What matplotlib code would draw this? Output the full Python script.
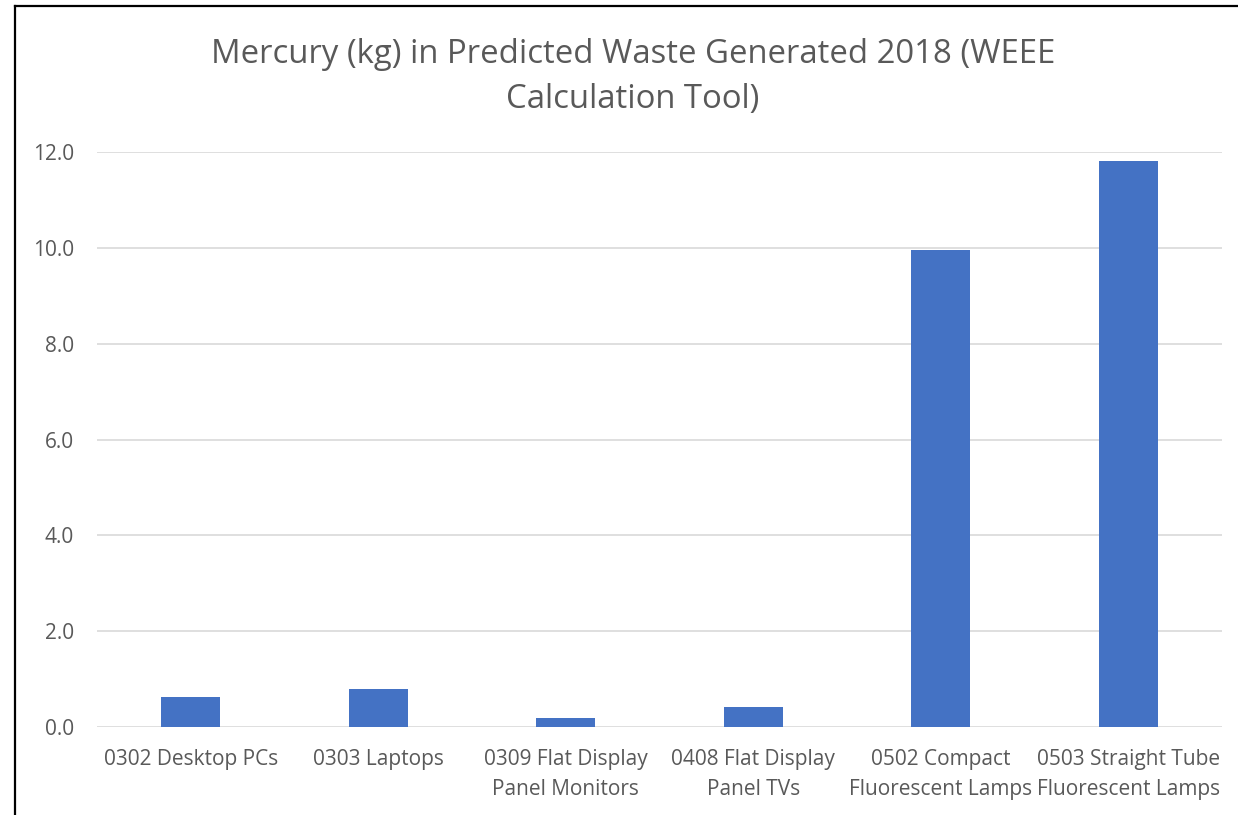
import matplotlib
matplotlib.use("Agg")
import matplotlib.pyplot as plt
from matplotlib.lines import Line2D

categories = [
    "0302 Desktop PCs",
    "0303 Laptops",
    "0309 Flat Display\nPanel Monitors",
    "0408 Flat Display\nPanel TVs",
    "0502 Compact\nFluorescent Lamps",
    "0503 Straight Tube\nFluorescent Lamps",
]
mercury_kg = [0.62, 0.80, 0.18, 0.42, 9.96, 11.82]
y_ticks = [0, 2, 4, 6, 8, 10, 12]

plt.rcParams['font.family'] = ['Open Sans', 'DejaVu Sans']
text_color = '#595959'

fig = plt.figure(figsize=(12.38, 8.15), dpi=100)
ax = fig.add_axes([97 / 1238, 1 - 727 / 815, (1222 - 97) / 1238, (727 - 152) / 815])

x = list(range(len(categories)))
ax.bar(x, mercury_kg, width=0.315, color='#4472C4', zorder=3)

ax.set_xlim(-0.5, len(categories) - 0.5)
ax.set_ylim(0, 12)
ax.set_yticks(y_ticks)
ax.set_yticklabels([f"{v:.1f}" for v in y_ticks])
ax.set_xticks(x)
ax.set_xticklabels(categories, linespacing=1.6)

ax.grid(axis='y', color='#D9D9D9', linewidth=1.2, zorder=0)
for side in ['top', 'right', 'left', 'bottom']:
    ax.spines[side].set_visible(False)
ax.tick_params(axis='both', length=0, colors=text_color, labelsize=15)
ax.tick_params(axis='y', pad=16.5)
ax.tick_params(axis='x', pad=15.5)

fig.text(633 / 1238, 1 - 77 / 815,
         "Mercury (kg) in Predicted Waste Generated 2018 (WEEE\nCalculation Tool)",
         ha='center', va='center', fontsize=23.7, color=text_color, linespacing=1.46)

# chart border (left and top visible)
fig.add_artist(Line2D([15 / 1238, 15 / 1238], [0, 1 - 6 / 815], color='black', linewidth=1.6,
                      transform=fig.transFigure))
fig.add_artist(Line2D([15 / 1238, 1], [1 - 6 / 815, 1 - 6 / 815], color='black', linewidth=1.6,
                      transform=fig.transFigure))

fig.savefig("out.png", dpi=100)
